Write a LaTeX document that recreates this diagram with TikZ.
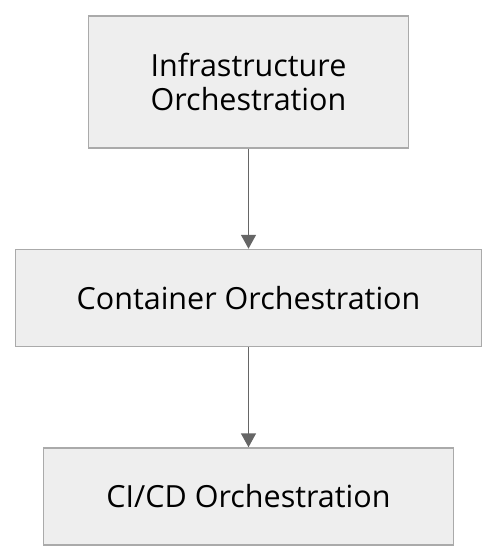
\documentclass[tikz,border=0pt]{standalone}
\usepackage{fontspec}
\setmainfont{Open Sans}
\usepackage{xcolor}
\usetikzlibrary{chains, positioning, arrows.meta}

\definecolor{boxfill}{HTML}{EEEEEE}
\definecolor{boxline}{HTML}{AAAAAA}
\definecolor{arrowgray}{HTML}{666666}

\begin{document}
\begin{tikzpicture}[
    node distance = 100pt,
    start chain = going below,
    every node/.style = {
        draw=boxline, fill=boxfill, line width=1.5pt, rectangle,
        align=center, text=black,
        font=\fontsize{30.5}{34}\selectfont, on chain
    },
    flow/.style = {-{Triangle[length=14pt, width=15pt]}, draw=arrowgray, fill=arrowgray, line width=1.5pt}
  ]
    \useasboundingbox (0,0) rectangle (498pt,-560pt);
    \node (infra) [minimum width=320pt, minimum height=132pt] at (248.5pt,-82pt) {Infrastructure\\Orchestration};  % top
    \node (container) [minimum width=466pt, minimum height=97pt] {Container Orchestration};
    \node (cicd) [minimum width=410pt, minimum height=97pt] {CI/CD Orchestration};  % bottom
    \draw[flow] (infra) -- (container);
    \draw[flow] (container) -- (cicd);
\end{tikzpicture}
\end{document}
